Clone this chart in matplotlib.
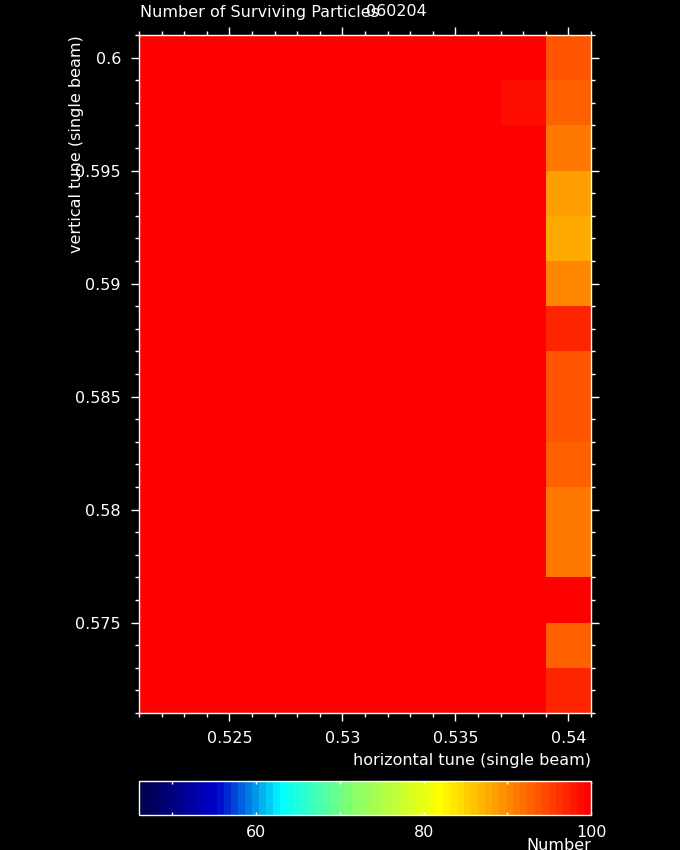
import numpy as np
import matplotlib
matplotlib.use("Agg")
import matplotlib.pyplot as plt
from matplotlib.colors import LinearSegmentedColormap, Normalize
from matplotlib.ticker import MultipleLocator, FixedLocator

# ---- data ----
h_tune = [0.522, 0.524, 0.526, 0.528, 0.530, 0.532, 0.534, 0.536, 0.538, 0.540]
v_tune = [0.572, 0.574, 0.576, 0.578, 0.580, 0.582, 0.584, 0.586,
          0.588, 0.590, 0.592, 0.594, 0.596, 0.598, 0.600]
# surviving particles in the last column (h=0.540), bottom to top
last_col = [97, 93, 100, 91, 91, 93, 94, 94, 97, 90, 88, 89, 91, 93, 94]
# column h=0.538, bottom to top
col_538 = [100, 100, 100, 100, 100, 100, 100, 100, 100, 100, 100, 100, 100, 99, 100]
base_value = 100
cbar_min, cbar_max = 46, 100

Z = np.full((len(v_tune), len(h_tune)), float(base_value))
Z[:, -1] = last_col
Z[:, -2] = col_538

# ---- colormap (PGPLOT-like) ----
def p(v):
    return (v - cbar_min) / (cbar_max - cbar_min)
cmap = LinearSegmentedColormap.from_list("pg", [
    (0.0, (0.0, 0.0, 0.30)),
    (p(55), (0.0, 0.0, 0.80)),
    (p(63), (0.0, 1.0, 1.0)),
    (p(71), (0.50, 1.0, 0.45)),
    (p(82), (1.0, 1.0, 0.0)),
    (1.0, (1.0, 0.0, 0.0)),
], N=64)

W, H = 680, 850
fig = plt.figure(figsize=(W / 100, H / 100), dpi=100, facecolor="black")
fs = 11.5

def px_axes(l, t, r, b):
    return fig.add_axes([l / W, 1 - b / H, (r - l) / W, (b - t) / H])

ax = px_axes(139, 35, 591, 713)
ax.set_facecolor("black")
norm = Normalize(cbar_min, cbar_max)
mesh = ax.pcolormesh(h_tune, v_tune, Z, cmap=cmap, norm=norm, shading="nearest")
ax.set_xlim(0.521, 0.541)
ax.set_ylim(0.571, 0.601)

ax.xaxis.set_major_locator(FixedLocator([0.525, 0.53, 0.535, 0.54]))
ax.xaxis.set_minor_locator(MultipleLocator(0.001))
ax.yaxis.set_major_locator(FixedLocator([0.575, 0.58, 0.585, 0.59, 0.595, 0.6]))
ax.yaxis.set_minor_locator(MultipleLocator(0.001))
ax.set_xticklabels(["0.525", "0.53", "0.535", "0.54"])
ax.set_yticklabels(["0.575", "0.58", "0.585", "0.59", "0.595", "0.6"])
ax.tick_params(which="both", direction="out", colors="white", labelsize=fs,
               top=True, right=True, bottom=True, left=True)
ax.tick_params(which="major", length=6, width=1, pad=7)
ax.tick_params(which="minor", length=3, width=1)
for s in ax.spines.values():
    s.set_color("white")
    s.set_linewidth(1)

fig.text(140 / W, 1 - 12 / H, "Number of Surviving Particles", color="white",
         fontsize=fs, ha="left", va="center")
fig.text(366 / W, 1 - 12 / H, "060204", color="white",
         fontsize=fs, ha="left", va="center")
fig.text(77 / W, 1 - 35 / H, "vertical tune (single beam)", color="white",
         fontsize=fs, ha="center", va="top", rotation=90)
fig.text(591 / W, 1 - 760 / H, "horizontal tune (single beam)", color="white",
         fontsize=fs, ha="right", va="center")

# ---- colorbar ----
cax = px_axes(139, 781, 591, 815)
cb = fig.colorbar(mesh, cax=cax, orientation="horizontal")
cb.set_ticks([60, 80, 100])
cb.set_ticklabels(["60", "80", "100"])
cax.xaxis.set_minor_locator(FixedLocator([50, 70, 90]))
cax.tick_params(which="both", direction="in", colors="white", labelsize=fs,
                top=True, bottom=True, length=2.5, width=1, pad=7)
cb.outline.set_edgecolor("white")
cb.outline.set_linewidth(1)
fig.text(591 / W, 1 - 845 / H, "Number", color="white", fontsize=fs,
         ha="right", va="center")

fig.savefig("out.png", dpi=100, facecolor="black")
